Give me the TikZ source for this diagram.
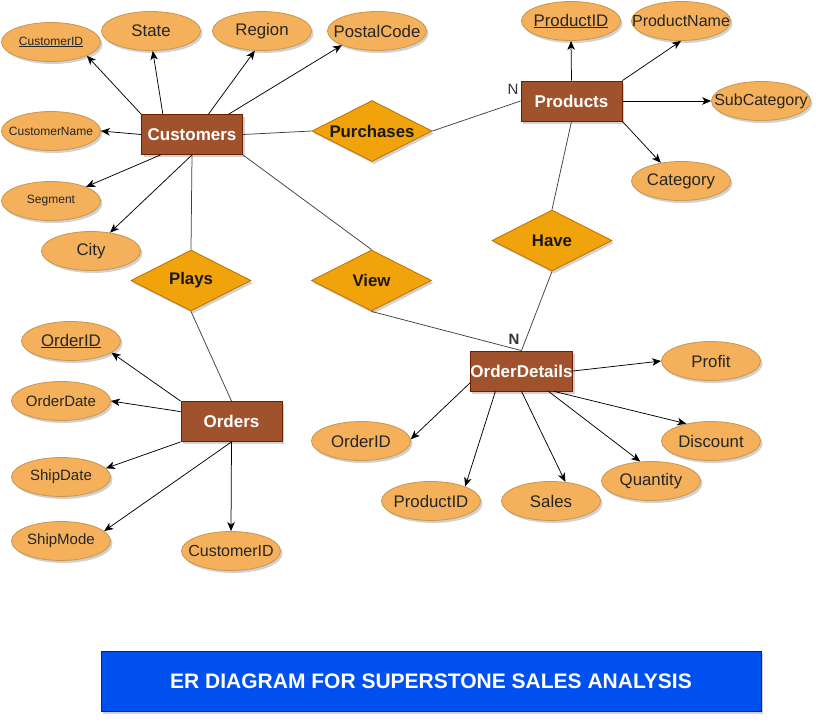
\documentclass[tikz,border=0pt]{standalone}
\usepackage{fontspec}
\setmainfont{Liberation Sans}
\usetikzlibrary{shapes.geometric,shadows,arrows.meta}

\definecolor{entitybrown}{HTML}{A0522D}
\definecolor{entityline}{HTML}{6D1F00}
\definecolor{attrorange}{HTML}{F4B05A}
\definecolor{attrline}{HTML}{C8964E}
\definecolor{relorange}{HTML}{F0A30A}
\definecolor{relline}{HTML}{BD7000}
\definecolor{titleblue}{HTML}{0050EF}
\definecolor{titleline}{HTML}{001DBC}

\begin{document}
\begin{tikzpicture}[x=1pt, y=-1pt,
    shade/.style={drop shadow={shadow xshift=2pt, shadow yshift=-2.5pt,
                  opacity=0.3, fill=black!60}},
    entity/.style={rectangle, draw=entityline, fill=entitybrown, shade,
                   line width=0.8pt,
                   minimum width=101pt, minimum height=40pt, inner sep=0pt,
                   text=white, font=\fontsize{17}{19}\selectfont\bfseries},
    attr/.style={ellipse, draw=attrline, fill=attrorange, shade,
                 line width=0.8pt,
                 minimum width=99pt, minimum height=39pt,
                 inner xsep=-18pt, inner ysep=0pt,
                 text=black!85, font=\fontsize{16.8}{18}\selectfont},
    midattr/.style={attr, font=\fontsize{15}{17}\selectfont},
    smallattr/.style={attr, font=\fontsize{12}{14}\selectfont},
    rel/.style={diamond, shape aspect=2, draw=relline, fill=relorange, shade,
                line width=0.8pt,
                minimum width=120pt, minimum height=61pt, inner sep=0pt,
                text=black!90, font=\fontsize{16.8}{18}\selectfont\bfseries},
    arr/.style={-{Stealth[length=9pt, width=7.5pt, inset=2.5pt]}, black,
                line width=0.75pt},
    link/.style={black!75, line width=0.75pt},
    card/.style={text=black!80, font=\fontsize{15}{17}\selectfont},
]
\useasboundingbox (0,0) rectangle (821,721);

% Customers entity
\node[entity] (cust) at (192,134.5) {Customers};
\node[smallattr] (cid) at (51,42) {\underline{CustomerID}};
\node[attr] (state) at (151,31) {State};
\node[attr] (region) at (262,31) {Region};
\node[attr] (postal) at (377,31) {PostalCode};
\node[smallattr] (cname) at (51,131) {CustomerName};
\node[smallattr] (segment) at (51,201) {Segment};
\node[attr] (city) at (91,251) {City};
\draw[arr] (cust.north west) -- (cid.-21);
\draw[arr] (cust.145) -- (state.-85);
\draw[arr] (cust.51) -- (region.-110);
\draw[arr] (cust.29) -- (postal.-158);
\draw[arr] (cust.west) -- (cname.east);
\draw[arr] (cust.213) -- (segment.22);
\draw[arr] (cust.south) -- (city.44);

% Products entity
\node[entity] (prod) at (571.5,101) {Products};
\node[attr] (pid) at (571,21) {\underline{ProductID}};
\node[attr, font=\fontsize{16}{18}\selectfont] (pname) at (681,21) {ProductName};
\node[attr, font=\fontsize{16}{18}\selectfont] (subcat) at (761,101) {SubCategory};
\node[attr] (categ) at (681,181) {Category};
\draw[arr] (prod.north) -- (pid.south);
\draw[arr] (prod.north east) -- (pname.south);
\draw[arr] (prod.east) -- (subcat.west);
\draw[arr] (prod.south east) -- (categ.138);

% Orders entity
\node[entity] (ord) at (231.5,421.5) {Orders};
\node[attr] (oid) at (71,341) {\underline{OrderID}};
\node[midattr] (odate) at (61,401) {OrderDate};
\node[midattr] (sdate) at (61,477) {ShipDate};
\node[midattr] (smode) at (61,541) {ShipMode};
\node[attr, font=\fontsize{16}{18}\selectfont] (ocid) at (231,551) {CustomerID};
\draw[arr] (ord.north west) -- (oid.-16);
\draw[arr] (ord.169) -- (odate.east);
\draw[arr] (ord.south west) -- (sdate.11);
\draw[arr] (ord.south) -- (smode.13);
\draw[arr] (ord.south) -- (ocid.north);

% OrderDetails entity
\node[entity] (odet) at (521.5,371) {OrderDetails};
\node[attr] (doid) at (361,441) {OrderID};
\node[attr] (dpid) at (431,501) {ProductID};
\node[attr] (sales) at (551,501) {Sales};
\node[attr] (qty) at (651,481) {Quantity};
\node[attr] (disc) at (711,441) {Discount};
\node[attr] (profit) at (711,361) {Profit};
\draw[arr] (odet.193) -- (doid.2);
\draw[arr] (odet.218) -- (dpid.23);
\draw[arr] (odet.south) -- (sales.53);
\draw[arr] (odet.-37) -- (qty.119);
\draw[arr] (odet.-32) -- (disc.145);
\draw[arr] (odet.east) -- (profit.west);

% Relationships
\node[rel] (purch) at (372,131) {Purchases};
\node[rel] (plays) at (191,280.5) {Plays};
\node[rel] (view) at (371.5,280.5) {View};
\node[rel] (have) at (552,240.5) {Have};
\draw[link] (cust.east) -- (purch.west);
\draw[link] (purch.east) -- (prod.west);
\draw[link] (cust.south) -- (plays.north);
\draw[link] (plays.south) -- (ord.north);
\draw[link] (cust.south east) -- (view.north);
\draw[link] (view.south) -- (odet.north);
\draw[link] (prod.south) -- (have.north);
\draw[link] (have.south) -- (odet.north);

% Cardinalities
\node[card] (nprod) at (513,89) {N};
\node[card, font=\fontsize{15}{17}\selectfont\bfseries] (nodet) at (514,339) {N};

% Title
\node[rectangle, draw=titleline, fill=titleblue, shade, line width=0.8pt,
      minimum width=660pt, minimum height=60pt, text=white,
      font=\fontsize{21}{23}\selectfont\bfseries] (title) at (431,681)
    {ER DIAGRAM FOR SUPERSTONE SALES ANALYSIS};

\end{tikzpicture}
\end{document}
